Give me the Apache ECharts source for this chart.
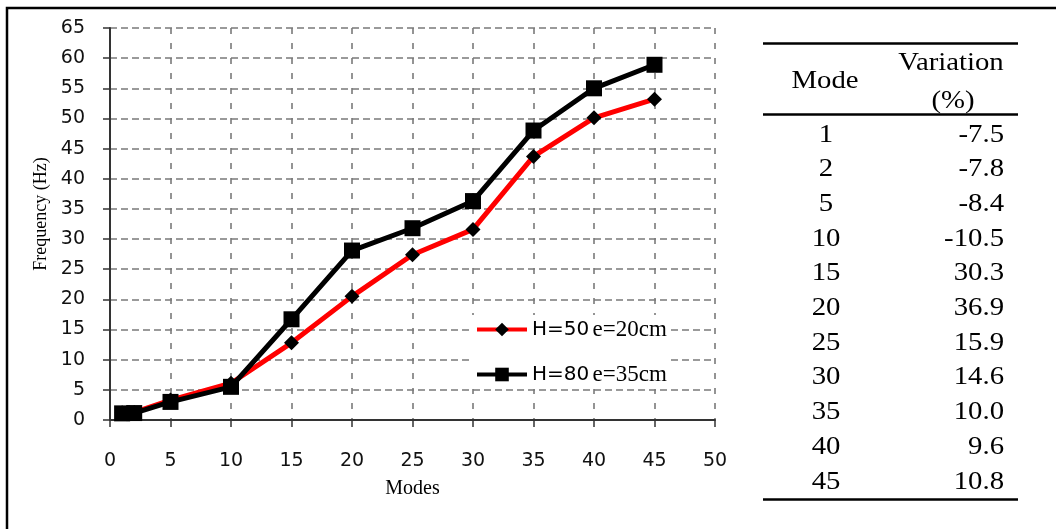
<!DOCTYPE html>
<html>
<head>
<meta charset="utf-8">
<script src="https://cdn.jsdelivr.net/npm/echarts@6/dist/echarts.min.js"></script>
<style>html,body{margin:0;padding:0;background:#fff}#c{width:1056px;height:529px}</style>
</head>
<body>
<div id="c"></div>
<script>
// ---- data ----
const modes = [1, 2, 5, 10, 15, 20, 25, 30, 35, 40, 45];
const freqH50 = [1.2, 1.25, 3.3, 6.1, 12.8, 20.5, 27.4, 31.6, 43.7, 50.1, 53.2];
const freqH80 = [1.1, 1.15, 3.0, 5.5, 16.7, 28.1, 31.8, 36.3, 48.0, 55.0, 58.9];
const seriesNames = ['H=50 e=20cm', 'H=80 e=35cm'];
const tableModes = ['1', '2', '5', '10', '15', '20', '25', '30', '35', '40', '45'];
const tableVariation = ['-7.5', '-7.8', '-8.4', '-10.5', '30.3', '36.9', '15.9', '14.6', '10.0', '9.6', '10.8'];
const tableHeader = ['Mode', 'Variation', '(%)'];

const chart = echarts.init(document.getElementById('c'));

const serif = '"Liberation Serif", "Times New Roman", serif';
const sans = '"DejaVu Sans", Verdana, sans-serif';

// table graphics
const tblFont = 25, tblScaleX = 1.15;
const graphics = [];
function tText(str, x, y, align) {
  graphics.push({
    type: 'text', x: x, y: y, scaleX: tblScaleX, z: 10,
    style: { text: str, x: 0, y: 0, align: align, verticalAlign: 'middle',
      font: tblFont + 'px ' + serif, fill: '#000' }
  });
}
function tLine(y) {
  graphics.push({ type: 'line', z: 10, shape: { x1: 763, y1: y, x2: 1018, y2: y },
    style: { stroke: '#000', lineWidth: 2.5 } });
}
tLine(43.5); tLine(114.5); tLine(499.5);
tText(tableHeader[0], 825, 81, 'center');
tText(tableHeader[1], 951, 63, 'center');
tText(tableHeader[2], 953, 101, 'center');
tableModes.forEach((m, i) => {
  const y = 135 + i * 34.7;
  tText(m, 826, y, 'center');
  tText(tableVariation[i], 1004, y, 'right');
});
// outer frame (top & left edges visible)
graphics.push({ type: 'rect', z: 20, shape: { x: 7, y: 8, width: 1200, height: 800 },
  style: { fill: 'none', stroke: '#000', lineWidth: 2.5 } });

const option = {
  backgroundColor: '#fff',
  animation: false,
  grid: { left: 110, top: 28, right: 341, bottom: 109, containLabel: false },
  xAxis: {
    type: 'value', min: 0, max: 50, interval: 5,
    name: 'Modes', nameLocation: 'middle', nameGap: 59,
    nameTextStyle: { fontFamily: serif, fontSize: 20, color: '#000' },
    axisLine: { onZero: false, lineStyle: { color: '#333', width: 2 } },
    axisTick: { show: true, length: 7, lineStyle: { color: '#333', width: 1.5 } },
    axisLabel: { margin: 32, fontFamily: sans, fontSize: 19, color: '#111' },
    splitLine: { show: true, lineStyle: { color: '#7a7a7a', width: 1.6, type: [6, 9] } }
  },
  yAxis: {
    type: 'value', min: 0, max: 65, interval: 5,
    name: 'Frequency (Hz)', nameLocation: 'middle', nameGap: 59,
    nameTextStyle: { fontFamily: serif, fontSize: 18, color: '#000', padding: [0, 0, 0, 20] },
    axisLine: { show: true, lineStyle: { color: '#333', width: 2 } },
    axisTick: { show: true, length: 7, lineStyle: { color: '#333', width: 1.5 } },
    axisLabel: { margin: 25, fontFamily: sans, fontSize: 19, color: '#111' },
    splitLine: { show: true, lineStyle: { color: '#7a7a7a', width: 1.6, type: [7, 4] } }
  },
  legend: {
    orient: 'vertical', left: 470, top: 315,
    padding: [3, 3, 3, 5], itemGap: 22, itemWidth: 50, itemHeight: 17,
    backgroundColor: '#fff',
    lineStyle: { width: 4 },
    data: seriesNames,
    formatter: function (name) {
      const p = name.split(' ');
      return '{s|' + p[0] + '} {t|' + p[1] + '}';
    },
    textStyle: {
      color: '#000',
      rich: {
        s: { fontFamily: sans, fontSize: 20, lineHeight: 25, color: '#000' },
        t: { fontFamily: serif, fontSize: 23, lineHeight: 25, color: '#000' }
      }
    }
  },
  series: [
    {
      name: seriesNames[0], type: 'line', z: 2,
      data: modes.map((m, i) => [m, freqH50[i]]),
      symbol: 'diamond', symbolSize: 15,
      lineStyle: { color: '#ff0000', width: 5 },
      itemStyle: { color: '#000' }
    },
    {
      name: seriesNames[1], type: 'line', z: 3,
      data: modes.map((m, i) => [m, freqH80[i]]),
      symbol: 'rect', symbolSize: 16,
      lineStyle: { color: '#000', width: 5 },
      itemStyle: { color: '#000' }
    }
  ],
  graphic: graphics
};
chart.setOption(option);
</script>
</body>
</html>
